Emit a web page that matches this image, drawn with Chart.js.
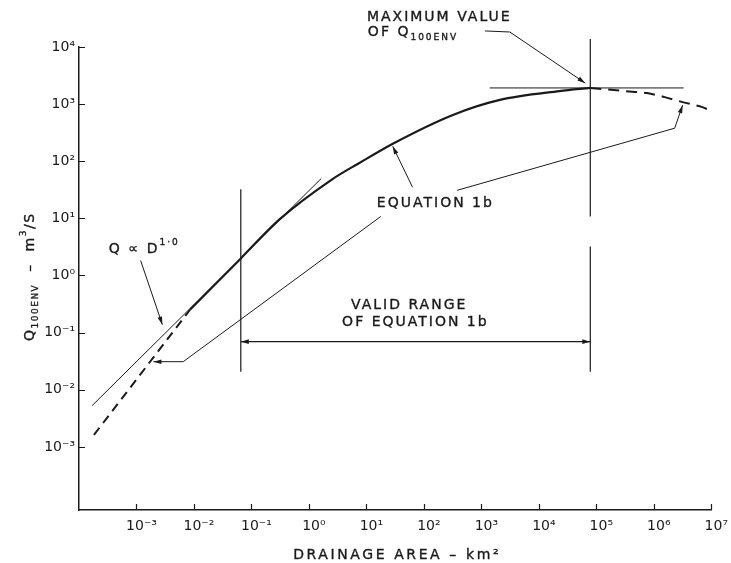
<!DOCTYPE html>
<html><head><meta charset="utf-8">
<script src="https://cdn.jsdelivr.net/npm/chart.js@4.4.1/dist/chart.umd.min.js"></script>
<style>html,body{margin:0;padding:0;background:#fff}canvas{display:block}</style>
</head><body>
<canvas id="c" width="731" height="563"></canvas>
<script>
// ---- tick labels (powers of ten) ----
const xTickExps = [-3, -2, -1, 0, 1, 2, 3, 4, 5, 6, 7];
const yTickExps = [-3, -2, -1, 0, 1, 2, 3, 4];

// ---- Equation 1b envelope (area km², Q m³/s) ----
// dashed extension below the valid range
const eqLowArea = [1.82e-4, 8.6e-3];
const eqLowQ    = [1.62e-3, 0.254];
// solid part
const eqArea = [8.6e-3, 0.0653, 0.308, 2.54, 7.41, 29.9, 312, 2020, 22900, 78500];
const eqQ    = [0.254, 1.99, 9.6, 48.3, 92.3, 207, 641, 1175, 1690, 1920];
// dashed part beyond the maximum
const eqHighArea = [78500, 3.16e5, 7.57e5, 1.55e6, 3.17e6, 7.0e6, 9.27e6];
const eqHighQ    = [1920, 1690, 1560, 1327, 1084, 885, 785];

// ---- Q ∝ D^1.0 reference line ----
const propArea = [1.7e-4, 1.64];
const propQ    = [5.3e-3, 50];

// ---- maximum value of Q100ENV ----
const maxQArea = [1.4e3, 3.3e6];
const maxQ     = 1920;

// ---- valid range of equation 1b ----
const validRange = [0.0653, 78500];

// ---- annotation geometry (data coordinates) ----
const vLines = [
  { D: validRange[0], Q: [32.3, 0.0207] },
  { D: validRange[1], Q: [13800, 10.8] },
  { D: validRange[1], Q: [3.23, 0.0207] }
];
const rangeArrowQ = 0.0695;
const leaders = [
  { D: [1.18e-3, 2.82e-3], Q: [1.83, 0.138] },                 // Q ∝ D
  { D: [63.5, 28.7], Q: [35.0, 183] },                          // Equation 1b -> curve
  { D: [17.8, 6.5e-3, 1.97e-3], Q: [10.8, 0.031, 0.031] },      // Equation 1b -> dashed low
  { D: [380, 2.31e6, 3.17e6], Q: [31.0, 379, 959] },            // Equation 1b -> dashed high
  { D: [1160, 3130, 64300], Q: [19100, 18300, 2330] }           // Maximum value
];
const labels = [
  { D: 10.2, Q: 33600, parts: [['MAXIMUM VALUE', 14, 0]] },
  { D: 10.6, Q: 18300, parts: [['OF Q', 14, 0], ['100ENV', 9, 6]] },
  { D: 15.2, Q: 18.3, parts: [['EQUATION 1b', 14, 0]] },
  { D: 5.40, Q: 0.298, parts: [['VALID RANGE', 14, 0]] },
  { D: 3.78, Q: 0.150, parts: [['OF EQUATION 1b', 14, 0]] },
  { D: 3.3e-4, Q: 2.86, parts: [['Q ∝ D', 14, 0], ['1·0', 9, -7]] }
];

const SUP = { '-': '⁻', '0': '⁰', '1': '¹', '2': '²', '3': '³', '4': '⁴', '5': '⁵', '6': '⁶', '7': '⁷', '8': '⁸', '9': '⁹' };
const powLabel = v => '10' + String(Math.round(Math.log10(v))).split('').map(c => SUP[c]).join('');
const pts = (xs, ys) => xs.map((x, i) => ({ x, y: ys[i] }));
const INK = '#1a1a1a';
const FONT = '"DejaVu Sans", sans-serif';

const base = { showLine: true, pointRadius: 0, borderColor: INK, fill: false, tension: 0 };
const datasets = [
  { ...base, data: pts(eqLowArea, eqLowQ), borderWidth: 2, borderDash: [9, 6] },
  { ...base, data: pts(eqArea, eqQ), borderWidth: 2.2, cubicInterpolationMode: 'monotone' },
  { ...base, data: pts(eqHighArea, eqHighQ), borderWidth: 2, borderDash: [11, 7], cubicInterpolationMode: 'monotone' },
  { ...base, data: pts(propArea, propQ), borderWidth: 1 },
  { ...base, data: pts(maxQArea, maxQArea.map(() => maxQ)), borderWidth: 1 },
  { ...base, data: pts(validRange, validRange.map(() => rangeArrowQ)), borderWidth: 1.2, arrow: 'both' }
];
vLines.forEach(v => datasets.push({ ...base, data: pts(v.Q.map(() => v.D), v.Q), borderWidth: 1.2, clip: false }));
leaders.forEach(l => datasets.push({ ...base, data: pts(l.D, l.Q), borderWidth: 1, clip: false, arrow: 'end' }));

function arrowHead(ctx, from, to, len, half) {
  const a = Math.atan2(to.y - from.y, to.x - from.x);
  const c = Math.cos(a), s = Math.sin(a);
  ctx.beginPath();
  ctx.moveTo(to.x, to.y);
  ctx.lineTo(to.x - len * c + half * s, to.y - len * s - half * c);
  ctx.lineTo(to.x - len * c - half * s, to.y - len * s + half * c);
  ctx.closePath();
  ctx.fill();
}

function drawParts(ctx, x, y, parts, spacing) {
  let cx = x;
  for (const [t, size, dy] of parts) {
    ctx.font = size + 'px ' + FONT;
    ctx.letterSpacing = spacing + 'px';
    ctx.fillText(t, cx, y + dy);
    ctx.strokeText(t, cx, y + dy);
    cx += ctx.measureText(t).width;
  }
}

const decor = {
  id: 'decor',
  afterDatasetsDraw(chart) {
    const ctx = chart.ctx;
    ctx.save();
    ctx.fillStyle = INK;
    chart.data.datasets.forEach((ds, i) => {
      if (!ds.arrow) return;
      const p = chart.getDatasetMeta(i).data;
      const n = p.length;
      arrowHead(ctx, p[n - 2], p[n - 1], 8, 2.3);
      if (ds.arrow === 'both') arrowHead(ctx, p[1], p[0], 8, 2.3);
    });
    ctx.restore();
  },
  afterDraw(chart) {
    const ctx = chart.ctx, xs = chart.scales.x, ys = chart.scales.y, a = chart.chartArea;
    ctx.save();
    // inward tick marks
    ctx.strokeStyle = INK; ctx.lineWidth = 1.2;
    ctx.beginPath();
    xs.ticks.forEach(t => { const p = Math.round(xs.getPixelForValue(t.value)) + 0.5; ctx.moveTo(p, a.bottom); ctx.lineTo(p, a.bottom - 6); });
    ys.ticks.forEach(t => { const p = Math.round(ys.getPixelForValue(t.value)) + 0.5; ctx.moveTo(a.left, p); ctx.lineTo(a.left + 6, p); });
    ctx.stroke();
    // annotation labels
    ctx.fillStyle = INK; ctx.strokeStyle = INK; ctx.lineWidth = 0.35;
    ctx.textAlign = 'left'; ctx.textBaseline = 'middle';
    labels.forEach(l => drawParts(ctx, xs.getPixelForValue(l.D), ys.getPixelForValue(l.Q), l.parts, 2));
    // x axis title
    ctx.font = '14px ' + FONT; ctx.letterSpacing = '2.6px'; ctx.textAlign = 'center';
    ctx.fillText('DRAINAGE AREA – km²', (a.left + a.right) / 2 + 2, 555);
    ctx.strokeText('DRAINAGE AREA – km²', (a.left + a.right) / 2 + 2, 555);
    // y axis title (rotated)
    ctx.textAlign = 'left';
    ctx.translate(30, 341);
    ctx.rotate(-Math.PI / 2);
    drawParts(ctx, 0, 0, [['Q', 14, 0], ['100ENV', 9, 6], ['  –  ', 14, 0], ['m', 14, 0], ['3', 9, -6], ['/S', 14, 0]], 1.5);
    ctx.restore();
  }
};

new Chart(document.getElementById('c'), {
  type: 'scatter',
  data: { datasets },
  plugins: [decor],
  options: {
    responsive: false,
    animation: false,
    events: [],
    layout: { padding: { top: 47, right: 16, left: 0, bottom: 0 } },
    plugins: { legend: { display: false }, tooltip: { enabled: false } },
    scales: {
      x: {
        type: 'logarithmic', min: 1e-4, max: 1e7,
        afterBuildTicks: s => { s.ticks = xTickExps.map(e => ({ value: Math.pow(10, e) })); },
        afterFit: s => { s.height = 53; },
        grid: { display: false, drawTicks: false },
        border: { display: true, color: INK, width: 1.5 },
        ticks: { callback: v => powLabel(v), color: INK, font: { family: 'DejaVu Sans', size: 14 }, padding: 8, maxRotation: 0, autoSkip: false, labelOffset: 5 }
      },
      y: {
        type: 'logarithmic', min: 7.85e-5, max: 1e4,
        afterBuildTicks: s => { s.ticks = yTickExps.map(e => ({ value: Math.pow(10, e) })); },
        afterFit: s => { s.width = 79; },
        grid: { display: false, drawTicks: false },
        border: { display: true, color: INK, width: 1.5 },
        ticks: { callback: v => powLabel(v), color: INK, font: { family: 'DejaVu Sans', size: 14 }, padding: 4, autoSkip: false }
      }
    }
  }
});
</script>
</body></html>
